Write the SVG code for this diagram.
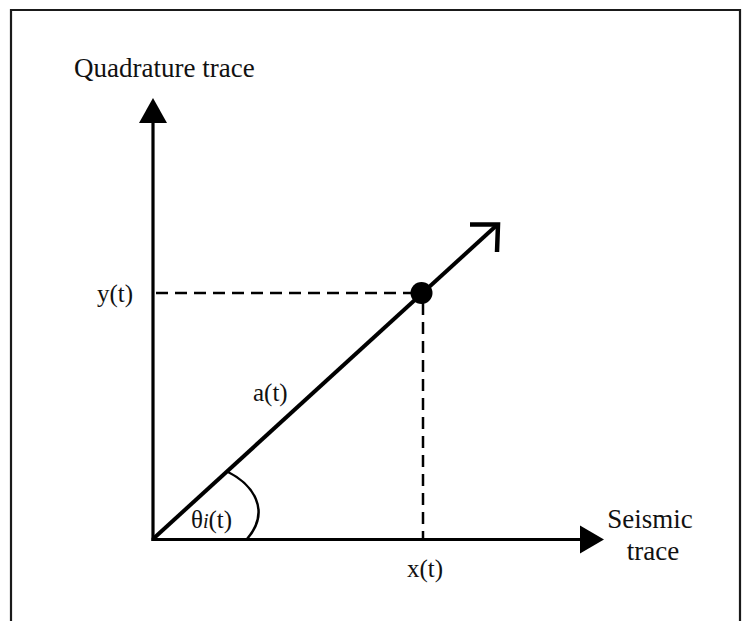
<svg xmlns="http://www.w3.org/2000/svg" width="750" height="621" viewBox="0 0 750 621">
  <style>
    .lbl { font-family: "Liberation Serif", "Times New Roman", serif; fill: #111; }
    .big { font-size: 27px; }
    .sm { font-size: 25px; }
    .axis { stroke: #000; stroke-width: 3.2; fill: none; }
    .dash { stroke: #000; stroke-width: 2.5; stroke-dasharray: 12 7; fill: none; }
  </style>
  <defs>
    <marker id="tri" viewBox="0 0 10 10" refX="0" refY="5" markerWidth="10" markerHeight="10" markerUnits="userSpaceOnUse" orient="auto">
      <path d="M0,0 L10,5 L0,10 Z" fill="#000"/>
    </marker>
  </defs>
  <rect x="0" y="0" width="750" height="621" fill="#fff"/>
  <path d="M11,621 V10 H740 V621" fill="none" stroke="#1a1a1a" stroke-width="2.2"/>

  <g id="connectors">
    <line id="y-axis" class="axis" x1="153" y1="541" x2="153" y2="120"/>
    <polygon points="153,98 139,123 167,123" fill="#000"/>
    <line id="x-axis" class="axis" x1="151.5" y1="539.5" x2="582" y2="539.5"/>
    <polygon points="604,539.5 580,525.5 580,553.5" fill="#000"/>
    <line id="vector" x1="153" y1="539" x2="497" y2="225" stroke="#000" stroke-width="4"/>
    <polyline points="470,224.5 498,224.5 497,252" fill="none" stroke="#000" stroke-width="4.5" stroke-linejoin="miter"/>
    <line id="y-proj" class="dash" x1="156" y1="293" x2="412" y2="293"/>
    <line id="x-proj" class="dash" x1="423" y1="303" x2="423" y2="538"/>
    <path id="angle-arc" d="M228,472 C252,484 272,510 247,539" fill="none" stroke="#000" stroke-width="2.5"/>
  </g>

  <g id="point">
    <circle cx="421.5" cy="293" r="11" fill="#000"/>
  </g>

  <g id="label-quadrature">
    <text class="lbl big" x="74" y="77">Quadrature trace</text>
  </g>
  <g id="label-seismic">
    <text class="lbl big" x="650" y="528" text-anchor="middle">Seismic</text>
    <text class="lbl big" x="653" y="560" text-anchor="middle">trace</text>
  </g>
  <g id="label-y">
    <text class="lbl sm" x="97" y="302">y(t)</text>
  </g>
  <g id="label-x">
    <text class="lbl sm" x="425" y="577" text-anchor="middle">x(t)</text>
  </g>
  <g id="label-a">
    <text class="lbl sm" x="253" y="401">a(t)</text>
  </g>
  <g id="label-theta">
    <text class="lbl sm" x="191" y="528">θ<tspan font-style="italic" font-size="20">i</tspan>(t)</text>
  </g>
</svg>
